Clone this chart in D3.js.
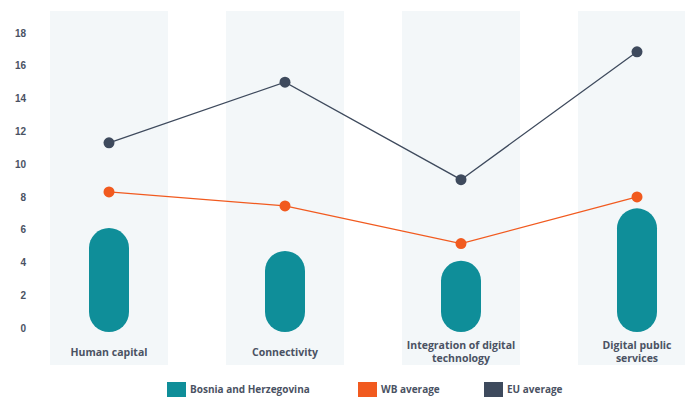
<!DOCTYPE html>
<meta charset="utf-8">
<style>
    body { margin: 0; background: #fff; font-family: "Open Sans", sans-serif; }
    .tick text { fill: #4a5263; font-size: 10px; font-weight: 600; }
    .cat { fill: #4a5263; font-size: 10.5px; font-weight: 700; }
    .legend text { fill: #4a5263; font-size: 10px; font-weight: 700; }
</style>
<body>
<div id="main"></div>
<script src="https://cdn.jsdelivr.net/npm/d3@7"></script>
<script>
    var categories = ["Human capital", "Connectivity", "Integration of digital technology", "Digital public services"];
    var catLines = [["Human capital"], ["Connectivity"], ["Integration of digital", "technology"], ["Digital public", "services"]];
    var bihValues = [6.1, 4.7, 4.1, 7.3];
    var wbValues = [8.3, 7.45, 5.15, 8.0];
    var euValues = [11.3, 15.0, 9.05, 16.85];
    var yTicks = [0, 2, 4, 6, 8, 10, 12, 14, 16, 18];
    var legendNames = ["Bosnia and Herzegovina", "WB average", "EU average"];

    var width = 685, height = 399;
    var teal = "#0f8e99", orange = "#f15a1f", navy = "#3e4a5d";

    var svg = d3.select("#main").append("svg")
        .attr("width", width)
        .attr("height", height);

    var x = d3.scalePoint()
        .domain(categories)
        .range([109, 637]);

    var bandW = 118;

    var y = d3.scaleLinear()
        .domain([0, 18])
        .range([328, 33]);

    // background columns
    svg.append("g").selectAll("rect")
        .data(categories)
        .enter().append("rect")
        .attr("x", function(d) { return x(d) - bandW / 2; })
        .attr("y", 11)
        .attr("width", bandW)
        .attr("height", 354)
        .attr("fill", "#f3f7f9");

    // y axis
    var yAxis = d3.axisLeft(y).tickValues(yTicks).tickSize(0).tickPadding(0);
    var ga = svg.append("g")
        .attr("transform", "translate(26,0)")
        .call(yAxis);
    ga.select(".domain").remove();

    // pill bars
    var barW = 40;
    svg.append("g").selectAll("rect")
        .data(bihValues)
        .enter().append("rect")
        .attr("x", function(d, i) { return x(categories[i]) - barW / 2; })
        .attr("y", function(d) { return y(d); })
        .attr("width", barW)
        .attr("height", function(d) { return y(0) - y(d) + 4; })
        .attr("rx", barW / 2)
        .attr("fill", teal);

    function drawLine(values, color) {
        var line = d3.line()
            .x(function(d, i) { return x(categories[i]); })
            .y(function(d) { return y(d); });
        svg.append("path")
            .datum(values)
            .attr("d", line)
            .attr("fill", "none")
            .attr("stroke", color)
            .attr("stroke-width", 1.3);
        svg.append("g").selectAll("circle")
            .data(values)
            .enter().append("circle")
            .attr("cx", function(d, i) { return x(categories[i]); })
            .attr("cy", function(d) { return y(d); })
            .attr("r", 5.5)
            .attr("fill", color);
    }
    drawLine(wbValues, orange);
    drawLine(euValues, navy);

    // category labels
    var cl = svg.append("g").selectAll("text")
        .data(catLines)
        .enter().append("text")
        .attr("class", "cat")
        .attr("text-anchor", "middle")
        .attr("x", function(d, i) { return x(categories[i]); })
        .attr("y", function(d) { return d.length > 1 ? 349 : 356; });
    cl.selectAll("tspan")
        .data(function(d) { return d; })
        .enter().append("tspan")
        .attr("x", function() { return d3.select(this.parentNode).attr("x"); })
        .attr("dy", function(d, i) { return i ? 13 : 0; })
        .text(function(d) { return d; });

    // legend
    var legendX = [167, 358, 484];
    var colors = [teal, orange, navy];
    var lg = svg.append("g").attr("class", "legend")
        .selectAll("g")
        .data(legendNames)
        .enter().append("g")
        .attr("transform", function(d, i) { return "translate(" + legendX[i] + ",382)"; });
    lg.append("rect")
        .attr("width", 19)
        .attr("height", 15)
        .attr("fill", function(d, i) { return colors[i]; });
    lg.append("text")
        .attr("x", 23)
        .attr("y", 11)
        .text(function(d) { return d; });
</script>
</body>
